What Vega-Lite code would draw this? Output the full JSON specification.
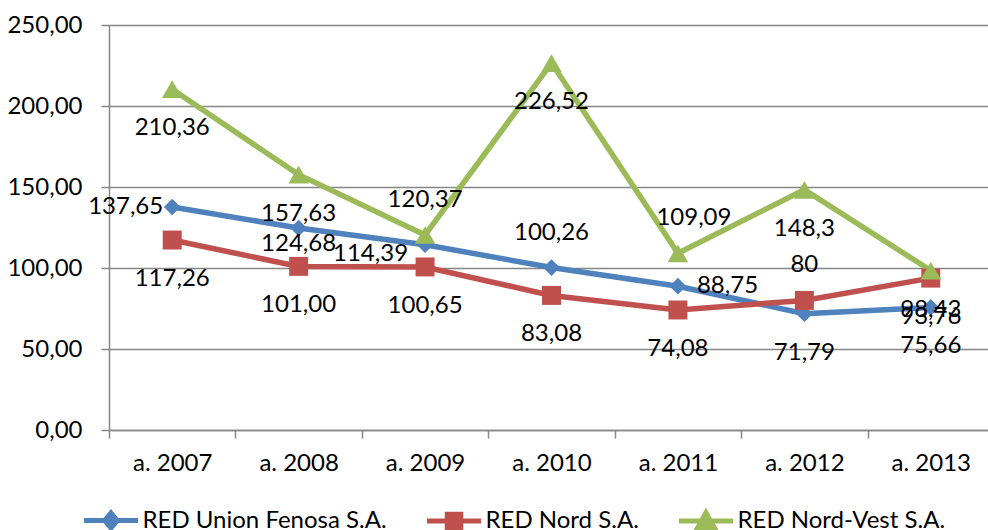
{
  "$schema": "https://vega.github.io/schema/vega-lite/v6.json",
  "width": 879,
  "height": 405,
  "autosize": {"type": "none"},
  "padding": {"left": 109, "top": 25, "right": 0, "bottom": 100},
  "background": "white",
  "config": {"view": {"stroke": null}},
  "data": {"values": [
    {"year": "a. 2007", "series": "RED Union Fenosa S.A.", "value": 137.65, "label": "137,65"},
    {"year": "a. 2008", "series": "RED Union Fenosa S.A.", "value": 124.68, "label": "124,68"},
    {"year": "a. 2009", "series": "RED Union Fenosa S.A.", "value": 114.39, "label": "114,39"},
    {"year": "a. 2010", "series": "RED Union Fenosa S.A.", "value": 100.26, "label": "100,26"},
    {"year": "a. 2011", "series": "RED Union Fenosa S.A.", "value": 88.75, "label": "88,75"},
    {"year": "a. 2012", "series": "RED Union Fenosa S.A.", "value": 71.79, "label": "71,79"},
    {"year": "a. 2013", "series": "RED Union Fenosa S.A.", "value": 75.66, "label": "75,66"},
    {"year": "a. 2007", "series": "RED Nord S.A.", "value": 117.26, "label": "117,26"},
    {"year": "a. 2008", "series": "RED Nord S.A.", "value": 101.00, "label": "101,00"},
    {"year": "a. 2009", "series": "RED Nord S.A.", "value": 100.65, "label": "100,65"},
    {"year": "a. 2010", "series": "RED Nord S.A.", "value": 83.08, "label": "83,08"},
    {"year": "a. 2011", "series": "RED Nord S.A.", "value": 74.08, "label": "74,08"},
    {"year": "a. 2012", "series": "RED Nord S.A.", "value": 80, "label": "80"},
    {"year": "a. 2013", "series": "RED Nord S.A.", "value": 93.76, "label": "93,76"},
    {"year": "a. 2007", "series": "RED Nord-Vest S.A.", "value": 210.36, "label": "210,36"},
    {"year": "a. 2008", "series": "RED Nord-Vest S.A.", "value": 157.63, "label": "157,63"},
    {"year": "a. 2009", "series": "RED Nord-Vest S.A.", "value": 120.37, "label": "120,37"},
    {"year": "a. 2010", "series": "RED Nord-Vest S.A.", "value": 226.52, "label": "226,52"},
    {"year": "a. 2011", "series": "RED Nord-Vest S.A.", "value": 109.09, "label": "109,09"},
    {"year": "a. 2012", "series": "RED Nord-Vest S.A.", "value": 148.3, "label": "148,3"},
    {"year": "a. 2013", "series": "RED Nord-Vest S.A.", "value": 98.43, "label": "98,43"}
  ]},
  "encoding": {
    "x": {
      "field": "year", "type": "nominal", "sort": null, "bandPosition": 0.5,
      "scale": {"type": "band", "paddingInner": 0, "paddingOuter": 0, "range": [0, 885]},
      "axis": {"title": null, "labelAngle": 0, "tickBand": "extent", "grid": false,
        "domainColor": "#868686", "domainWidth": 1.5, "tickColor": "#868686", "tickWidth": 1.5, "tickSize": 8,
        "labelPadding": 13, "labelFont": "Lato", "labelFontSize": 24, "labelColor": "black"}
    },
    "y": {
      "field": "value", "type": "quantitative",
      "scale": {"domain": [0, 250], "nice": false},
      "axis": {"title": null, "values": [0, 50, 100, 150, 200, 250],
        "labelExpr": "replace(format(datum.value, '.2f'), '.', ',')",
        "gridColor": "#868686", "gridWidth": 1.5, "domainColor": "#868686", "domainWidth": 1.5,
        "tickColor": "#868686", "tickWidth": 1.5, "tickSize": 8,
        "labelPadding": 19, "labelFont": "Lato", "labelFontSize": 24, "labelColor": "black"}
    }
  },
  "layer": [
    {
      "mark": {"type": "line", "strokeWidth": 5.5},
      "encoding": {
        "color": {"field": "series", "type": "nominal",
          "scale": {"domain": ["RED Union Fenosa S.A.", "RED Nord S.A.", "RED Nord-Vest S.A."], "range": ["#4F81BD", "#C0504D", "#9BBB59"]},
          "legend": {"title": null, "orient": "none", "legendX": -15.5, "legendY": 478, "direction": "horizontal", "columns": 3,
            "labelFont": "Lato", "labelFontSize": 24, "labelColor": "black", "labelLimit": 0, "symbolSize": 900, "symbolStrokeWidth": 5,
            "labelOffset": 14, "columnPadding": 29,
            "encode": {"symbols": {"update": {
              "fill": {"signal": "scale('color', datum.value)"},
              "stroke": {"signal": "scale('color', datum.value)"},
              "strokeWidth": {"value": 5},
              "opacity": {"value": 1},
              "size": {"value": 900},
              "shape": {"signal": "datum.value === 'RED Union Fenosa S.A.' ? 'M-1.8,0H1.8M0,-0.5L0.42,0L0,0.5L-0.42,0Z' : datum.value === 'RED Nord S.A.' ? 'M-1.8,0H1.8M-0.45,-0.45H0.45V0.45H-0.45Z' : 'M-1.8,0H1.8M0,-0.55L0.55,0.45H-0.55Z'"}
            }}}}
        }
      }
    },
    {
      "transform": [{"filter": "datum.series === 'RED Union Fenosa S.A.'"}],
      "mark": {"type": "point", "filled": true, "opacity": 1, "shape": "diamond", "size": 280},
      "encoding": {"color": {"field": "series", "type": "nominal", "legend": null}}
    },
    {
      "transform": [{"filter": "datum.series === 'RED Nord S.A.'"}],
      "mark": {"type": "point", "filled": true, "opacity": 1, "shape": "square", "size": 360},
      "encoding": {"color": {"field": "series", "type": "nominal", "legend": null}}
    },
    {
      "transform": [{"filter": "datum.series === 'RED Nord-Vest S.A.'"}],
      "mark": {"type": "point", "filled": true, "opacity": 1, "shape": "triangle-up", "size": 420},
      "encoding": {"color": {"field": "series", "type": "nominal", "legend": null}}
    },
    {
      "transform": [{"filter": "!((datum.series === 'RED Union Fenosa S.A.' && (datum.year === 'a. 2007' || datum.year === 'a. 2008' || datum.year === 'a. 2009' || datum.year === 'a. 2010' || datum.year === 'a. 2011')) || (datum.series === 'RED Nord S.A.' && datum.year === 'a. 2012') || (datum.series === 'RED Nord-Vest S.A.' && (datum.year === 'a. 2009' || datum.year === 'a. 2011')))"}],
      "mark": {"type": "text", "font": "Lato", "fontSize": 24, "color": "black", "dy": 39},
      "encoding": {"text": {"field": "label"}}
    },
    {
      "transform": [{"filter": "(datum.series === 'RED Union Fenosa S.A.' && datum.year === 'a. 2010') || (datum.series === 'RED Nord S.A.' && datum.year === 'a. 2012') || (datum.series === 'RED Nord-Vest S.A.' && datum.year === 'a. 2009')"}],
      "mark": {"type": "text", "font": "Lato", "fontSize": 24, "color": "black", "dy": -35},
      "encoding": {"text": {"field": "label"}}
    },
    {
      "transform": [{"filter": "datum.series === 'RED Nord-Vest S.A.' && datum.year === 'a. 2011'"}],
      "mark": {"type": "text", "font": "Lato", "fontSize": 24, "color": "black", "dy": -35, "dx": 16},
      "encoding": {"text": {"field": "label"}}
    },
    {
      "transform": [{"filter": "datum.series === 'RED Union Fenosa S.A.' && datum.year === 'a. 2007'"}],
      "mark": {"type": "text", "font": "Lato", "fontSize": 24, "color": "black", "align": "right", "dx": -9},
      "encoding": {"text": {"field": "label"}}
    },
    {
      "transform": [{"filter": "datum.series === 'RED Union Fenosa S.A.' && datum.year === 'a. 2009'"}],
      "mark": {"type": "text", "font": "Lato", "fontSize": 24, "color": "black", "align": "right", "dx": -17, "dy": 9},
      "encoding": {"text": {"field": "label"}}
    },
    {
      "transform": [{"filter": "datum.series === 'RED Union Fenosa S.A.' && datum.year === 'a. 2011'"}],
      "mark": {"type": "text", "font": "Lato", "fontSize": 24, "color": "black", "align": "left", "dx": 19},
      "encoding": {"text": {"field": "label"}}
    },
    {
      "transform": [{"filter": "datum.series === 'RED Union Fenosa S.A.' && datum.year === 'a. 2008'"}],
      "mark": {"type": "text", "font": "Lato", "fontSize": 24, "color": "black", "dy": 16},
      "encoding": {"text": {"field": "label"}}
    }
  ]
}
